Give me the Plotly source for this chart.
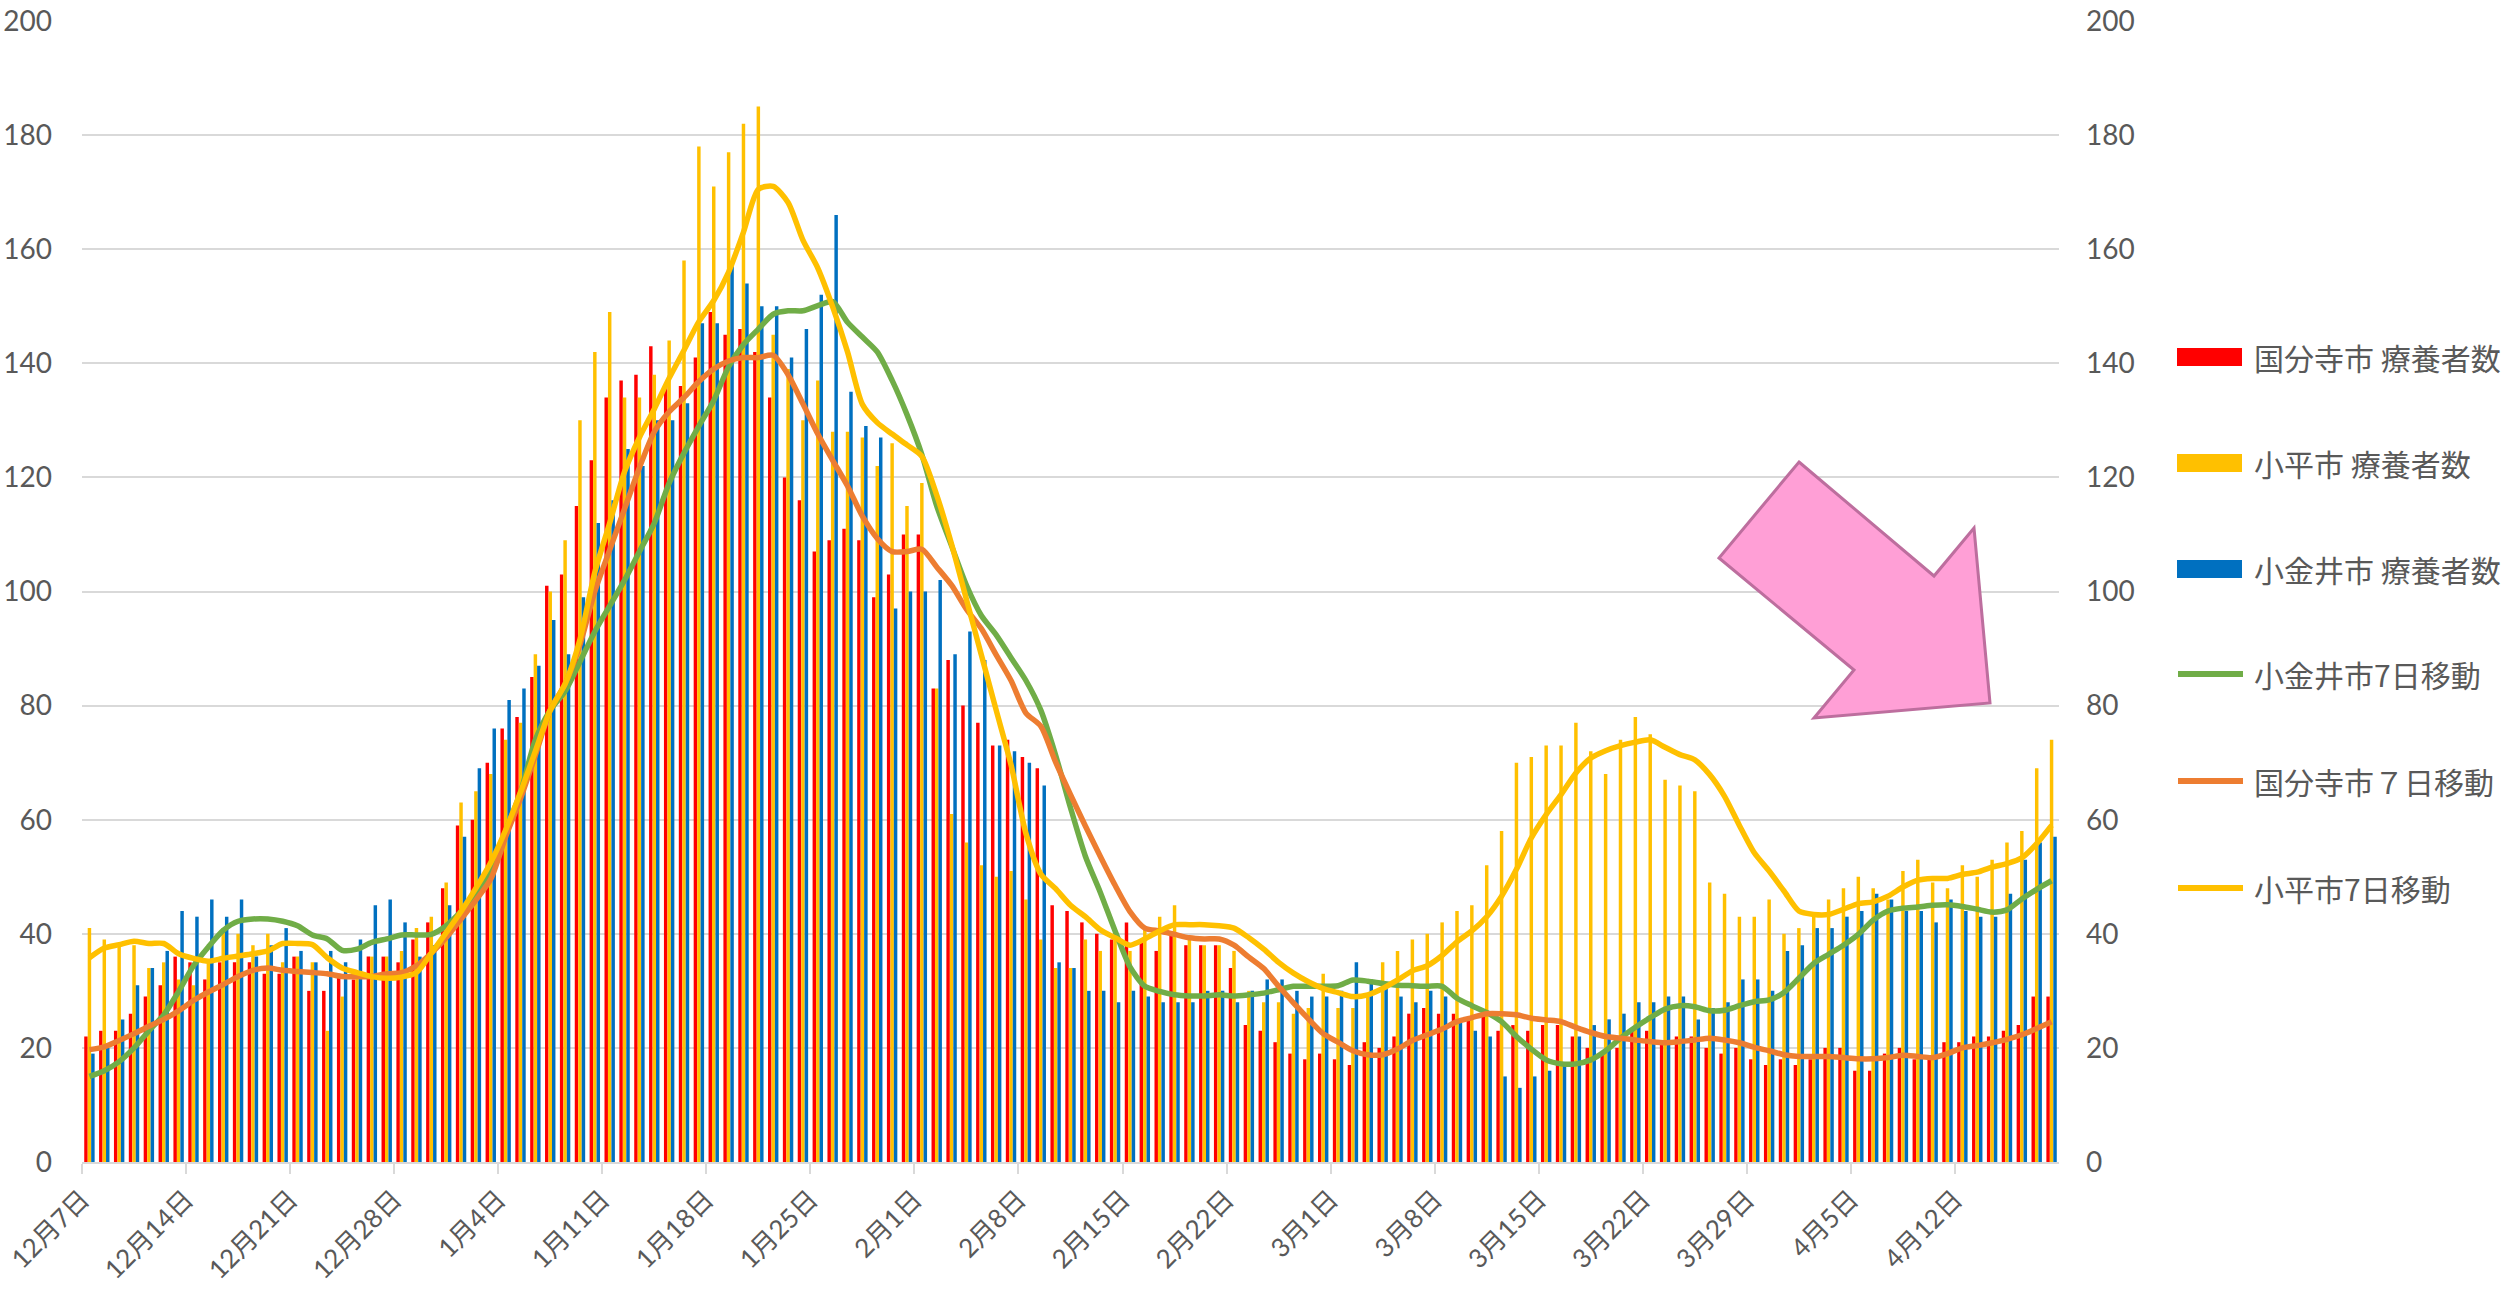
import pandas as pd
import plotly.graph_objects as go

# ---------------- data ----------------
start_date = "2020-12-07"

tick_labels = ["12月7日", "12月14日", "12月21日", "12月28日", "1月4日", "1月11日", "1月18日",
               "1月25日", "2月1日", "2月8日", "2月15日", "2月22日", "3月1日", "3月8日",
               "3月15日", "3月22日", "3月29日", "4月5日", "4月12日"]

# 国分寺市 療養者数 (red bars)
kokubunji_patients = [
    22, 23, 23, 26, 29, 31, 36, 35, 32, 35, 35, 35, 33, 33, 36, 30, 30, 33, 32, 36, 36, 35, 39, 42, 48, 59, 60, 70,
    76, 78, 85, 101, 103, 115, 123, 134, 137, 138, 143, 136, 136, 141, 149, 145, 146, 142, 134, 120, 116, 107, 109, 111, 109, 99, 103, 110,
    110, 83, 88, 80, 77, 73, 74, 71, 69, 45, 44, 42, 40, 39, 42, 39, 37, 40, 38, 38, 38, 34, 24, 23, 21, 19, 18, 19,
    18, 17, 21, 20, 22, 26, 27, 26, 26, 25, 26, 23, 24, 23, 24, 24, 22, 20, 19, 20, 23, 23, 21, 22, 22,
    20, 19, 20, 18, 17, 18, 17, 18, 20, 20, 16, 16, 19, 20, 18, 18, 21, 21, 22, 22, 23, 24, 29, 29]

# 小平市 療養者数 (yellow bars)
kodaira_patients = [
    41, 39, 38, 38, 34, 35, 32, 31, 35, 41, 40, 38, 40, 35, 36, 35, 23, 29, 33, 36, 36, 37, 41, 43, 49, 63, 65, 68,
    74, 77, 89, 100, 109, 130, 142, 149, 134, 134, 138, 144, 158, 178, 171, 177, 182, 185, 145, 139, 130, 137, 128, 128, 127, 122, 126, 115,
    119, 83, 61, 56, 52, 50, 51, 46, 39, 34, 34, 39, 37, 41, 37, 41, 43, 45, 39, 38, 38, 37, 30, 28, 28, 26, 27, 33,
    27, 27, 29, 35, 37, 39, 40, 42, 44, 45, 52, 58, 70, 71, 73, 73, 77, 72, 68, 74, 78, 75, 67, 66, 65,
    49, 47, 43, 43, 46, 40, 41, 43, 46, 48, 50, 48, 46, 51, 53, 49, 48, 52, 50, 53, 56, 58, 69, 74]

# 小金井市 療養者数 (blue bars)
koganei_patients = [
    19, 20, 25, 31, 34, 37, 44, 43, 46, 43, 46, 36, 38, 41, 37, 35, 37, 35, 39, 45, 46, 42, 36, 38, 45, 57, 69, 76,
    81, 83, 87, 95, 89, 99, 112, 116, 125, 122, 130, 130, 133, 147, 147, 157, 154, 150, 150, 141, 146, 152, 166, 135, 129, 127, 97, 100,
    100, 102, 89, 93, 88, 73, 72, 70, 66, 35, 34, 30, 30, 28, 30, 29, 28, 28, 28, 30, 30, 28, 30, 32, 32, 30, 29, 29,
    30, 35, 32, 31, 29, 28, 30, 29, 25, 23, 22, 15, 13, 15, 16, 17, 22, 24, 25, 26, 28, 28, 29, 29, 25,
    27, 28, 32, 32, 30, 37, 38, 41, 41, 43, 44, 47, 46, 44, 44, 42, 46, 44, 43, 43, 47, 53, 56, 57]

# 小金井市7日移動 (green line)
koganei_ma7 = [
    15.0, 16.0, 17.6, 20.0, 23.0, 25.8, 29.9, 34.4, 37.7, 40.6, 42.2, 42.6, 42.6, 42.2, 41.4, 39.8, 39.1, 37.1, 37.3, 38.5, 39.1, 39.8, 39.8, 39.9, 41.4, 43.9, 46.7, 51.0,
    58.0, 64.8, 74.0, 79.2, 82.5, 87.7, 93.0, 97.5, 102.0, 107.0, 112.0, 119.0, 124.3, 129.0, 133.5, 139.4, 143.3, 146.0, 148.6, 149.2, 149.2, 150.1, 150.8, 147.2, 144.6, 142.0, 137.0, 131.0,
    124.0, 115.0, 108.0, 101.1, 95.8, 92.4, 88.4, 84.4, 79.2, 71.3, 62.1, 53.6, 47.3, 40.5, 34.2, 30.8, 29.9, 29.3, 29.1, 29.1, 29.3, 29.1, 29.3, 29.6, 30.2, 30.8, 30.8, 30.8,
    30.9, 31.9, 31.7, 31.3, 31.0, 30.9, 30.8, 30.8, 28.7, 27.4, 26.2, 24.6, 22.0, 19.8, 17.9, 17.2, 17.2, 17.9, 19.5, 21.7, 23.6, 25.3, 26.8, 27.4, 27.2,
    26.5, 26.6, 27.4, 28.1, 28.4, 29.7, 32.2, 34.8, 36.4, 38.0, 39.9, 42.4, 44.0, 44.5, 44.7, 45.0, 45.1, 44.8, 44.3, 43.8, 44.2, 46.1, 47.8, 49.3]

# 国分寺市７日移動 (orange line)
kokubunji_ma7 = [
    19.7, 20.2, 21.3, 22.5, 23.8, 25.0, 26.5, 28.3, 29.8, 31.1, 32.5, 33.6, 34.0, 33.6, 33.4, 33.2, 33.0, 32.5, 32.5, 32.5, 33.0, 33.2, 34.4, 36.6, 39.3, 42.6, 45.9, 49.6,
    57.0, 63.7, 71.3, 79.2, 83.8, 90.7, 100.0, 107.3, 114.5, 121.7, 128.0, 131.5, 134.0, 136.8, 139.0, 140.4, 141.0, 141.0, 141.4, 138.0, 132.9, 127.6, 123.0, 118.5, 113.2, 109.3, 107.0, 107.0,
    107.4, 104.3, 101.1, 96.9, 93.5, 88.9, 84.4, 78.7, 76.4, 70.1, 64.4, 58.9, 53.6, 48.5, 43.9, 41.0, 40.5, 39.9, 39.3, 39.1, 39.1, 38.0, 35.9, 33.9, 30.8, 27.9, 25.1, 22.5,
    21.0, 19.5, 18.8, 18.8, 19.8, 21.3, 22.3, 23.3, 24.6, 25.3, 26.0, 26.0, 25.8, 25.2, 24.9, 24.6, 23.6, 22.7, 22.0, 21.7, 21.4, 21.1, 20.9, 21.1, 21.4,
    21.7, 21.4, 20.9, 20.1, 19.5, 18.8, 18.5, 18.5, 18.5, 18.3, 18.1, 18.1, 18.3, 18.7, 18.5, 18.3, 19.0, 20.0, 20.4, 20.9, 21.5, 22.3, 23.4, 24.6]

# 小平市7日移動 (yellow line)
kodaira_ma7 = [
    35.8, 37.5, 38.1, 38.7, 38.3, 38.3, 36.5, 35.7, 35.2, 35.7, 36.1, 36.5, 37.0, 38.3, 38.3, 38.1, 35.8, 34.0, 33.2, 32.5, 32.2, 32.4, 33.2, 36.6, 40.2, 43.9, 48.0, 52.5,
    58.2, 64.8, 72.0, 79.2, 83.8, 91.6, 103.4, 112.0, 121.0, 127.0, 132.0, 137.4, 142.3, 147.3, 151.0, 156.0, 163.0, 170.5, 171.0, 168.2, 161.6, 156.7, 149.9, 142.0, 132.8, 129.6, 127.6, 125.7,
    123.7, 116.9, 108.3, 98.6, 88.9, 79.2, 69.6, 57.6, 50.5, 47.9, 45.0, 43.0, 40.7, 39.3, 38.0, 39.1, 40.5, 41.6, 41.6, 41.6, 41.4, 41.0, 39.3, 37.3, 35.0, 33.1, 31.6, 30.4,
    29.7, 29.0, 29.3, 30.4, 31.9, 33.5, 34.4, 36.2, 38.6, 40.5, 43.0, 46.6, 51.3, 56.8, 60.9, 64.4, 68.2, 70.8, 72.1, 73.0, 73.6, 74.0, 72.7, 71.4, 70.5,
    67.9, 64.1, 59.0, 54.2, 51.0, 47.5, 44.0, 43.4, 43.4, 44.3, 45.3, 45.6, 46.6, 48.2, 49.4, 49.7, 49.7, 50.4, 50.8, 51.7, 52.3, 53.3, 55.8, 59.0]

# ---------------- figure ----------------
dates = pd.date_range(start_date, periods=len(kokubunji_patients), freq="D")
DAY_MS = 86400000

W, H = 2509, 1297
PLOT_L, PLOT_R, PLOT_T, PLOT_B = 82, 2059, 21, 1162

FONT = "Lato, 'Noto Sans CJK JP', sans-serif"
CJK = "'Noto Sans CJK JP', sans-serif"
TXT = "#595959"
GRID = "#D9D9D9"

def to_paper(px, py):
    return ((px - PLOT_L) / (PLOT_R - PLOT_L), (PLOT_B - py) / (PLOT_B - PLOT_T))

fig = go.Figure()

bar_series = [
    ("国分寺市 療養者数", kokubunji_patients, "#FF0000"),
    ("小平市 療養者数", kodaira_patients, "#FFC000"),
    ("小金井市 療養者数", koganei_patients, "#0070C0"),
]
line_series = [
    ("小金井市7日移動", koganei_ma7, "#70AD47"),
    ("国分寺市７日移動", kokubunji_ma7, "#ED7D31"),
    ("小平市7日移動", kodaira_ma7, "#FFC000"),
]

for name, vals, col in bar_series:
    fig.add_trace(go.Bar(
        x=dates, y=vals, name=name, marker=dict(color=col, line=dict(width=0)),
        xperiod=DAY_MS, xperiodalignment="middle", showlegend=False,
    ))

for name, vals, col in line_series:
    fig.add_trace(go.Scatter(
        x=dates, y=vals, name=name, mode="lines",
        line=dict(color=col, width=5.5, shape="spline", smoothing=0.7),
        xperiod=DAY_MS, xperiodalignment="middle", yaxis="y2", showlegend=False,
    ))

# ---- legend (drawn to match the reference's large keys) ----
shapes = []
annotations = []
legend_rows_y = [357, 463, 569, 674, 781, 888]
for i, (name, _, col) in enumerate(bar_series + line_series):
    yc = legend_rows_y[i]
    if i < 3:
        x0, y0 = to_paper(2177, yc - 9)
        x1, y1 = to_paper(2242, yc + 9)
        shapes.append(dict(type="rect", xref="paper", yref="paper", x0=x0, x1=x1, y0=y0, y1=y1,
                           fillcolor=col, line=dict(width=0)))
    else:
        x0, y0 = to_paper(2178, yc)
        x1, _ = to_paper(2243, yc)
        shapes.append(dict(type="line", xref="paper", yref="paper", x0=x0, x1=x1, y0=y0, y1=y0,
                           line=dict(color=col, width=6)))
    tx, ty = to_paper(2252, yc)
    annotations.append(dict(text=name, xref="paper", yref="paper", x=tx, y=ty,
                            xanchor="left", yanchor="middle", showarrow=False,
                            font=dict(family=CJK, size=30, color=TXT)))

# ---- pink block arrow ----
arrow_px = [(1799, 462), (1934, 576), (1974, 528), (1990, 703), (1814, 718), (1854, 670), (1719, 558)]
pts = [to_paper(*p) for p in arrow_px]
arrow_path = "M " + " L ".join(f"{a:.5f},{b:.5f}" for a, b in pts) + " Z"
shapes.append(dict(type="path", xref="paper", yref="paper", path=arrow_path,
                   fillcolor="#FF9FD6", line=dict(color="#BD6E9E", width=3), layer="above"))

fig.update_layout(
    width=W, height=H,
    margin=dict(l=PLOT_L, r=W - PLOT_R, t=PLOT_T, b=H - PLOT_B, pad=0, autoexpand=False),
    paper_bgcolor="white", plot_bgcolor="white",
    font=dict(family=FONT, size=28, color=TXT),
    barmode="group", bargap=0.3, bargroupgap=0.0,
    showlegend=False,
    xaxis=dict(
        type="date", automargin=False, ticklabeloverflow="allow",
        range=[dates[0], dates[-1] + pd.Timedelta(days=1)],
        tickvals=list(dates[::7]), ticktext=tick_labels,
        tickangle=-45, ticks="outside", ticklen=10, tickcolor=GRID, tickwidth=1.5,
        showline=True, linecolor=GRID, linewidth=1.5,
        showgrid=False, zeroline=False,
        tickfont=dict(size=26, color=TXT, family=FONT),
    ),
    yaxis=dict(
        automargin=False, ticklabeloverflow="allow",
        range=[0, 200], dtick=20, tick0=0,
        showgrid=True, gridcolor=GRID, gridwidth=1.5,
        zeroline=False, showline=False, ticks="",
        tickfont=dict(size=28, color=TXT), ticklabelstandoff=29,
    ),
    yaxis2=dict(
        automargin=False, ticklabeloverflow="allow",
        range=[0, 200], dtick=20, tick0=0, overlaying="y", side="right",
        showgrid=False, zeroline=False, showline=False, ticks="",
        tickfont=dict(size=28, color=TXT), ticklabelstandoff=26,
    ),
    shapes=shapes,
    annotations=annotations,
)

fig.write_html("out.html", config={"displayModeBar": False},
               post_script="document.body.style.margin='0px';")
